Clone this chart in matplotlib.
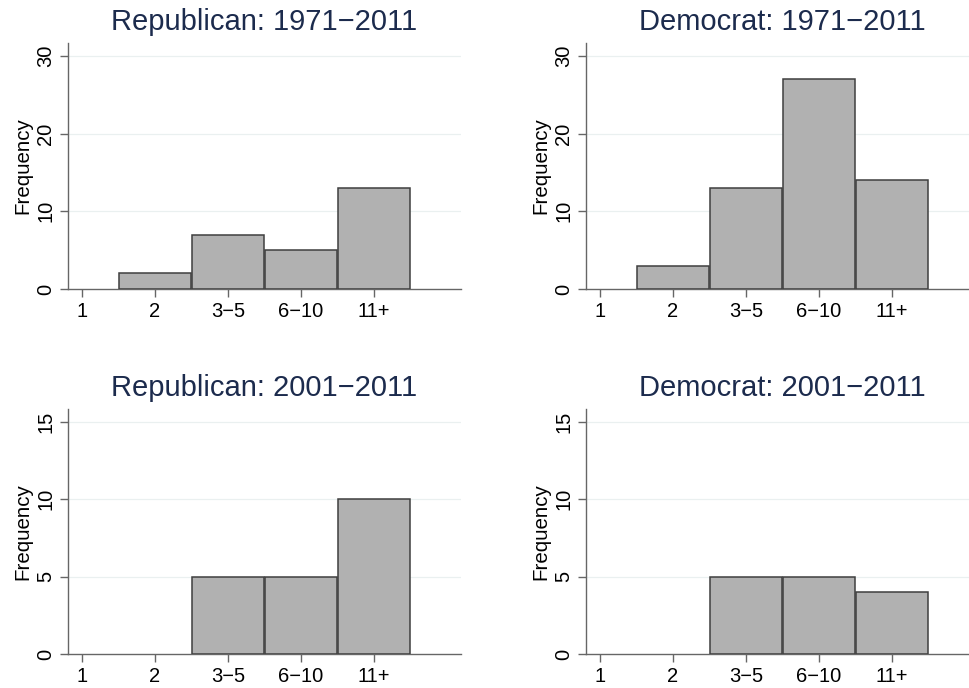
import matplotlib.pyplot as plt
import numpy as np

plt.rcParams['font.family'] = ['Liberation Sans', 'DejaVu Sans']

# categories of number of terms / bins
categories = ['1', '2', '3\u22125', '6\u221210', '11+']

rep_1971 = [0, 2, 7, 5, 13]
dem_1971 = [0, 3, 13, 27, 14]
rep_2001 = [0, 0, 5, 5, 10]
dem_2001 = [0, 0, 5, 5, 4]

titles = ['Republican: 1971\u22122011', 'Democrat: 1971\u22122011',
          'Republican: 2001\u22122011', 'Democrat: 2001\u22122011']
series = [rep_1971, dem_1971, rep_2001, dem_2001]
yticks_top = [0, 10, 20, 30]
yticks_bot = [0, 5, 10, 15]

W, H = 969, 688
fig = plt.figure(figsize=(W / 100, H / 100), dpi=100)

# axes boxes in pixels: left, top, right, bottom
boxes = [(68, 43, 461, 289), (586, 43, 979, 289),
         (68, 409, 461, 654), (586, 409, 979, 654)]

title_color = '#1c2b4d'
axis_color = '#666666'

for i, (box, vals, title) in enumerate(zip(boxes, series, titles)):
    l, t, r, b = box
    ax = fig.add_axes([l / W, 1 - b / H, (r - l) / W, (b - t) / H])
    x = np.arange(1, len(categories) + 1)
    vals = np.array(vals)
    # empty bins are not drawn (no outline on the baseline)
    nz = vals > 0
    ax.bar(x[nz], vals[nz], width=0.975, color='#b1b1b1', edgecolor='#3f3f3f',
           linewidth=1.1, zorder=3)

    ticks = yticks_top if i < 2 else yticks_bot
    ax.set_ylim(0, ticks[-1] * 1.055)
    ax.set_yticks(ticks)
    ax.set_yticklabels([str(v) for v in ticks], rotation=90, va='center')
    ax.set_xlim(0.81, 6.19)
    ax.set_xticks(x)
    ax.set_xticklabels(categories)

    for v in ticks[1:]:
        ax.axhline(v, color='#eaf0f0', linewidth=0.9, zorder=1)

    ax.spines['top'].set_visible(False)
    ax.spines['right'].set_visible(False)
    for s in ['left', 'bottom']:
        ax.spines[s].set_color(axis_color)
        ax.spines[s].set_linewidth(1.0)
    ax.tick_params(axis='both', colors=axis_color, labelcolor='black',
                   labelsize=14.5, length=6, width=1.0)
    ax.tick_params(axis='y', pad=3)
    ax.set_ylabel('Frequency', fontsize=14.8, labelpad=3)
    ax.set_title(title, fontsize=21, color=title_color, pad=9)

plt.savefig('out.png', dpi=100)
